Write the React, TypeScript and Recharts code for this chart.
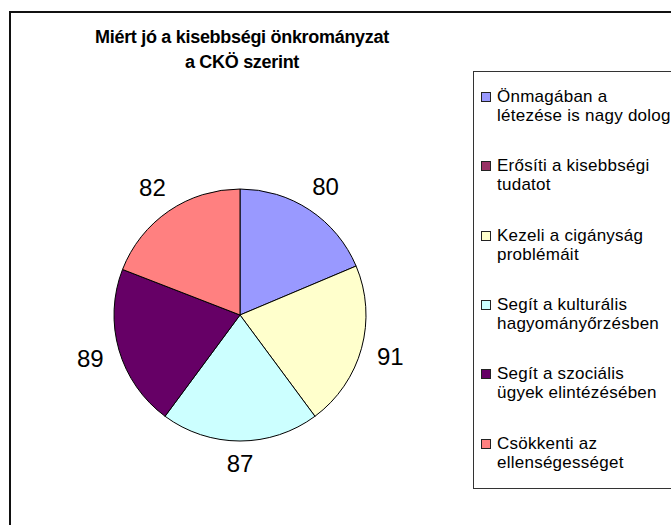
import { Pie, PieChart, Cell } from "recharts";

const categories = [
  "Önmagában a létezése is nagy dolog",
  "Erősíti a kisebbségi tudatot",
  "Kezeli a cigányság problémáit",
  "Segít a kulturális hagyományőrzésben",
  "Segít a szociális ügyek elintézésében",
  "Csökkenti az ellenségességet",
];
// legend is wrapped by hand like the original
const legendLines = [
  ["Önmagában a", "létezése is nagy dolog"],
  ["Erősíti a kisebbségi", "tudatot"],
  ["Kezeli a cigányság", "problémáit"],
  ["Segít a kulturális", "hagyományőrzésben"],
  ["Segít a szociális", "ügyek elintézésében"],
  ["Csökkenti az", "ellenségességet"],
];
const values: (number | null)[] = [80, null, 91, 87, 89, 82];
const colors = ["#9999FF", "#993366", "#FFFFCC", "#CCFFFF", "#660066", "#FF8080"];

const font = "Arial, 'Liberation Sans', sans-serif";
const RAD = Math.PI / 180;

const renderLabel = (p: any) => {
  const a = -p.midAngle * RAD;
  const off = 13 + 15 * Math.abs(Math.cos(a)) + 9 * Math.abs(Math.sin(a));
  const r = p.outerRadius + off;
  const x = p.cx + r * Math.cos(a);
  const y = p.cy + r * Math.sin(a);
  return (
    <text x={x} y={y} textAnchor="middle" dominantBaseline="central" fontSize={24} fontFamily={font} fill="#000">
      {p.value}
    </text>
  );
};

export default function App() {
  const data = categories
    .map((name, i) => ({ name, value: values[i], color: colors[i] }))
    .filter((d) => d.value !== null);

  return (
    <div style={{ position: "absolute", left: 0, top: 0, width: 671, height: 525, overflow: "hidden", background: "#fff", fontFamily: font }}>
      <div style={{ position: "absolute", left: 9, top: 11, width: 700, height: 560, border: "2px solid #111", boxSizing: "border-box" }} />
      <div style={{ position: "absolute", left: 40, top: 25, width: 404, textAlign: "center", fontWeight: "bold", fontSize: 18, lineHeight: "25px", letterSpacing: -0.3 }}>
        Miért jó a kisebbségi önkrományzat
        <br />a CKÖ szerint
      </div>
      <PieChart width={671} height={525} margin={{ top: 0, right: 0, bottom: 0, left: 0 }} style={{ position: "absolute", left: 0, top: 0 }}>
        <Pie
          data={data}
          dataKey="value"
          nameKey="name"
          cx={240}
          cy={315}
          outerRadius={126}
          startAngle={90}
          endAngle={-270}
          stroke="#000"
          strokeWidth={1}
          label={renderLabel}
          labelLine={false}
          isAnimationActive={false}
        >
          {data.map((d) => (
            <Cell key={d.name} fill={d.color} />
          ))}
        </Pie>
      </PieChart>
      <div style={{ position: "absolute", left: 473, top: 71, width: 240, height: 418, border: "1px solid #333", boxSizing: "border-box", background: "#fff" }}>
        {legendLines.map((lines, i) => (
          <div key={i} style={{ position: "absolute", left: 0, top: 15 + i * 69.3, whiteSpace: "nowrap" }}>
            <div style={{ position: "absolute", left: 7, top: 5, width: 8, height: 8, background: colors[i], border: "1px solid #222" }} />
            <div style={{ position: "absolute", left: 23, top: 0, fontSize: 17, lineHeight: "19px", letterSpacing: 0.25, color: "#000" }}>
              {lines[0]}
              <br />
              {lines[1]}
            </div>
          </div>
        ))}
      </div>
    </div>
  );
}
